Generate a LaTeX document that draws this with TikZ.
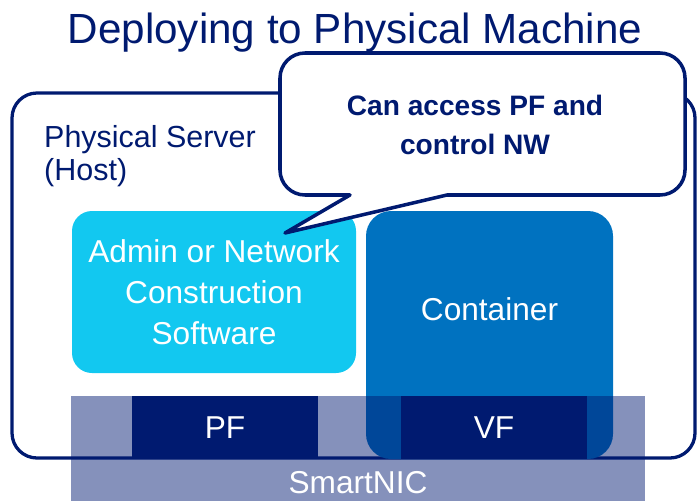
\documentclass[tikz,border=0pt]{standalone}
\usepackage{fontspec}
\setmainfont{Liberation Sans}
\usepackage{xcolor}
\usepackage{tikz}
\definecolor{navyblue}{RGB}{0, 26, 112}
\definecolor{skycyan}{RGB}{18, 200, 240}
\definecolor{containerblue}{RGB}{0, 114, 192}

\begin{document}
\begin{tikzpicture}[
    block/.style={rounded corners=0.6cm, inner sep=0pt, text=white,
                  font=\fontsize{27}{35}\selectfont, align=center},
    port/.style={fill=navyblue, minimum width=5.58cm, minimum height=1.89cm,
                 inner sep=0pt, text=white, font=\fontsize{27}{32}\selectfont},
    caption/.style={text=navyblue, inner sep=0pt, align=left}
]
    \useasboundingbox (0,0) rectangle (20.91,15.03);

    % Title
    \node[caption, anchor=base, font=\fontsize{36}{40}\selectfont] (title) at (10.65,13.71) {Deploying to Physical Machine};

    % Host frame
    \node[draw=navyblue, line width=2.8pt, rounded corners=0.75cm,
          minimum width=20.49cm, minimum height=10.95cm] (host) at (10.605,6.765) {};
    \node[caption, anchor=base west, font=\fontsize{26}{28}\selectfont] (hostlabel) at (1.32,9.63) {Physical Server\\(Host)};

    % Software on the host
    \node[block, fill=skycyan, minimum width=8.52cm, minimum height=4.86cm] (admin) at (6.42,6.27) {Admin or Network\\Construction\\Software};
    \node[block, fill=containerblue, rounded corners=0.75cm,
          minimum width=7.41cm, minimum height=7.44cm] (container) at (14.685,4.98) {};
    \node[block] (containerlabel) at (14.685,5.76) {Container};

    % SmartNIC and its functions
    \node[fill=navyblue, fill opacity=0.48, minimum width=17.22cm, minimum height=3.15cm,
          inner sep=0pt] (nic) at (10.74,1.575) {};
    \node[block] (niclabel) at (10.74,0.54) {SmartNIC};
    \node[port] (pf) at (6.75,2.205) {PF};
    \node[port] (vf) at (14.82,2.205) {VF};

    % Speech bubble
    \draw[navyblue, line width=3pt, fill=white, line join=round]
        (8.4,11.31) [rounded corners=0.75cm] -- (8.4,13.44) -- (20.55,13.44) -- (20.55,9.18)
        [sharp corners] -- (13.41,9.18) -- (8.55,8.04) -- (10.5,9.18)
        [rounded corners=0.75cm] -- (8.4,9.18) -- cycle;
    \node[text=navyblue, inner sep=0pt, align=center,
          font=\fontsize{24}{34}\selectfont\bfseries] (note) at (14.25,11.28) {Can access PF and\\control NW};
\end{tikzpicture}
\end{document}
